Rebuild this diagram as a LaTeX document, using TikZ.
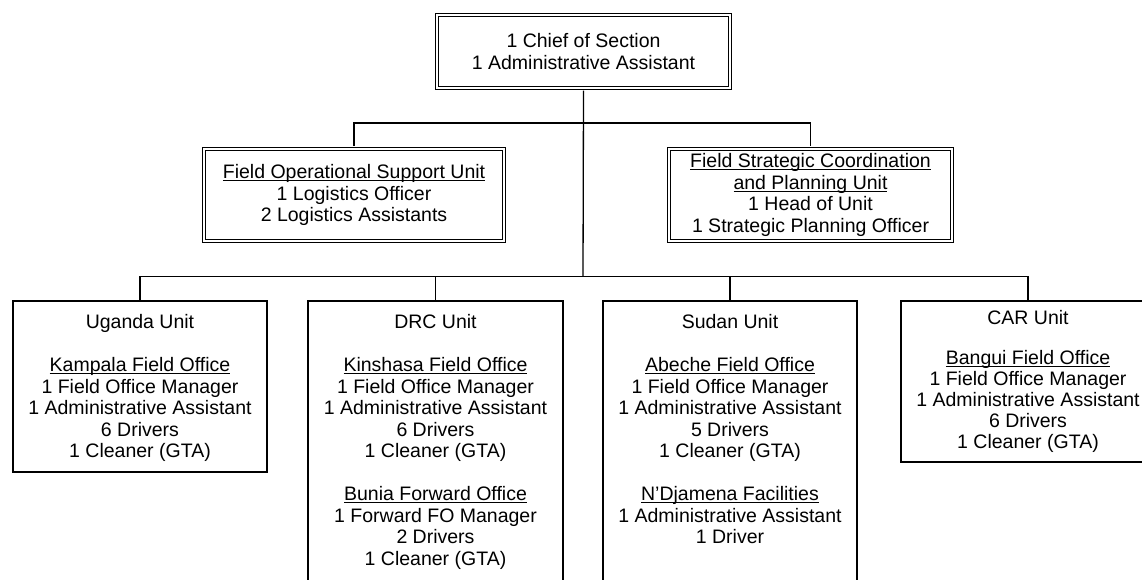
\documentclass[tikz,border=0pt]{standalone}
\usepackage{fontspec}
\setmainfont{Liberation Sans}

\newsavebox{\ulbox}
\newcommand{\uhead}[1]{\sbox{\ulbox}{#1}%
  \rlap{\raisebox{-2.6pt}{\rule{\wd\ulbox}{1.1pt}}}\usebox{\ulbox}}

\tikzset{
  headbox/.style={draw, double, line width=1.1pt, double distance=2.2pt,
    inner sep=0pt, align=center},
  unitbox/.style={draw, line width=1.3pt, inner sep=0pt},
  unittext/.style={anchor=north, align=center, inner sep=0pt},
  link/.style={line width=1.3pt}
}

\begin{document}
\begin{tikzpicture}[x=1pt, y=-1pt, font=\fontsize{19.5}{21.5}\selectfont]
        \useasboundingbox (0,0) rectangle (1142,580);

        % section head and the two support units
        \node [headbox, minimum width=292.6pt, minimum height=72.6pt]
          (chief) at (583.5,51.5) {1 Chief of Section\\1 Administrative Assistant};
        \node [headbox, minimum width=300pt, minimum height=92pt]
          (fosu) at (354,195) {\uhead{Field Operational Support Unit}\\
          1 Logistics Officer\\2 Logistics Assistants};
        \node [headbox, minimum width=283pt, minimum height=92pt]
          (fscpu) at (810.5,195) {\uhead{Field Strategic Coordination}\\
          \uhead{and Planning Unit}\\1 Head of Unit\\1 Strategic Planning Officer};

        % country units
        \node [unitbox, minimum width=254pt, minimum height=171pt] (uganda) at (140,386.5) {};
        \node [unitbox, minimum width=255pt, minimum height=299pt] (drc) at (435.5,450.5) {};
        \node [unitbox, minimum width=254pt, minimum height=299pt] (sudan) at (730,450.5) {};
        \node [unitbox, minimum width=254pt, minimum height=161pt] (car) at (1028,381.5) {};

        \node [unittext] (ugandatext) at ([yshift=-14pt]uganda.north) {Uganda Unit\\[21.5pt]
          \uhead{Kampala Field Office}\\1 Field Office Manager\\1 Administrative Assistant\\
          6 Drivers\\1 Cleaner (GTA)};
        \node [unittext] (drctext) at ([yshift=-14pt]drc.north) {DRC Unit\\[21.5pt]
          \uhead{Kinshasa Field Office}\\1 Field Office Manager\\1 Administrative Assistant\\
          6 Drivers\\1 Cleaner (GTA)\\[21.5pt]
          \uhead{Bunia Forward Office}\\1 Forward FO Manager\\2 Drivers\\1 Cleaner (GTA)};
        \node [unittext] (sudantext) at ([yshift=-14pt]sudan.north) {Sudan Unit\\[21.5pt]
          \uhead{Abeche Field Office}\\1 Field Office Manager\\1 Administrative Assistant\\
          5 Drivers\\1 Cleaner (GTA)\\[21.5pt]
          \uhead{N’Djamena Facilities}\\1 Administrative Assistant\\1 Driver};
        \node [unittext, font=\fontsize{19.5}{21}\selectfont] (cartext)
          at ([yshift=-10pt]car.north) {CAR Unit\\[19pt]
          \uhead{Bangui Field Office}\\1 Field Office Manager\\1 Administrative Assistant\\
          6 Drivers\\1 Cleaner (GTA)};

        % connectors
        \coordinate (upper) at (583,123);
        \coordinate (lower) at (583,276.5);
        \draw [link] ([yshift=-2.2pt]chief.south) -- (lower);
        \draw [link] ([yshift=2.2pt]fosu.north) -- (fosu.north |- upper)
          -- (fscpu.north |- upper) -- ([yshift=2.2pt]fscpu.north);
        \draw [link] (uganda.north) -- (uganda.north |- lower)
          -- (car.north |- lower) -- (car.north);
        \draw [link] (drc.north) -- (drc.north |- lower);
        \draw [link] (sudan.north) -- (sudan.north |- lower);

\end{tikzpicture}
\end{document}
